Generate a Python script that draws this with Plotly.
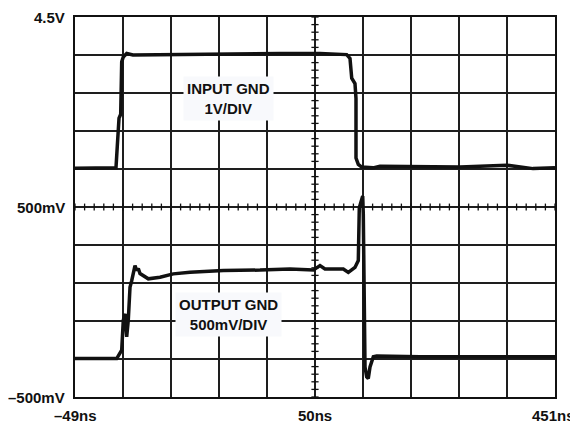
import numpy as np
import plotly.graph_objects as go

# Data in screen divisions (10 x 10 grid)
input_x = [0, 0.854, 0.881, 0.917, 0.952, 0.973, 1.006, 1.077, 1.208, 1.771, 3.021, 4.271, 5.104,
           5.660, 5.729, 5.765, 5.833, 5.854, 5.854, 5.902, 5.973, 6.208, 6.354, 8.021, 8.994, 9.542, 10]
input_y = [6.02, 6.03, 6.60, 7.34, 7.44, 8.82, 8.95, 9.04, 9.00, 9.01, 9.03, 9.04, 9.04,
           9.01, 8.91, 8.39, 8.25, 7.86, 6.29, 6.12, 6.05, 6.03, 6.07, 6.05, 6.10, 6.01, 6.03]

output_x = [0, 0.869, 0.973, 1.006, 1.042, 1.077, 1.110, 1.146, 1.181, 1.25, 1.285, 1.319, 1.354,
            1.423, 1.527, 1.771, 2.048, 2.396, 3.090, 3.854, 4.479, 4.965, 5.104, 5.208, 5.590,
            5.694, 5.833, 5.902, 5.923, 5.973, 5.994, 6.006, 6.042, 6.077, 6.110, 6.146, 6.215,
            6.285, 7.188, 10]
output_y = [1.01, 1.01, 1.23, 2.02, 2.19, 1.58, 2.02, 2.89, 3.06, 3.46, 3.33, 3.38, 3.25,
            3.19, 3.11, 3.15, 3.24, 3.28, 3.33, 3.34, 3.37, 3.34, 3.46, 3.37, 3.37,
            3.28, 3.41, 3.59, 4.98, 5.20, 5.29, 4.82, 0.79, 0.53, 0.49, 0.79, 1.06,
            1.08, 1.06, 1.06]

x_labels = ["\u201349ns", "50ns", "451ns"]
x_label_pos = [0, 5, 10]
y_labels = ["4.5V", "500mV", "\u2013500mV"]
y_label_pos = [10, 5, 0]

INK = "#111111"
FONT = dict(family="Liberation Sans, Arial, sans-serif", size=15, color=INK)

fig = go.Figure()
fig.add_trace(go.Scatter(x=input_x, y=input_y, mode="lines",
                         line=dict(color=INK, width=3.5), hoverinfo="skip"))
fig.add_trace(go.Scatter(x=output_x, y=output_y, mode="lines",
                         line=dict(color=INK, width=3.5), hoverinfo="skip"))

shapes = []
# crossing minor ticks on centre axes
for t in np.arange(0, 10.001, 0.2):
    shapes.append(dict(type="line", xref="x", yref="y", x0=t, x1=t, y0=5 - 0.09, y1=5 + 0.09,
                       line=dict(color=INK, width=1.3)))
    shapes.append(dict(type="line", xref="x", yref="y", x0=5 - 0.075, x1=5 + 0.075, y0=t, y1=t,
                       line=dict(color=INK, width=1.3)))

annotations = []
for lab, p in zip(x_labels, x_label_pos):
    anch = "right" if p == 10 else "center"
    shift = 22 if p == 10 else 0
    annotations.append(dict(x=p, y=0, xref="x", yref="y", text="<b>%s</b>" % lab, showarrow=False,
                            yshift=-18, xshift=shift, font=FONT, xanchor=anch, yanchor="middle"))
for lab, p in zip(y_labels, y_label_pos):
    annotations.append(dict(x=0, y=p, xref="x", yref="y", text="<b>%s</b>" % lab, showarrow=False,
                            xshift=-8, font=FONT, xanchor="right", yanchor="middle"))
annotations.append(dict(x=3.19, y=7.85, xref="x", yref="y", text="<b>INPUT GND<br>1V/DIV</b>",
                        showarrow=False, font=FONT, bgcolor="#f8f9fc", borderpad=3, align="center"))
annotations.append(dict(x=3.19, y=2.16, xref="x", yref="y", text="<b>OUTPUT GND<br>500mV/DIV</b>",
                        showarrow=False, font=FONT, bgcolor="#f8f9fc", borderpad=3, align="center"))

axis_common = dict(showgrid=True, gridcolor="#1e1e1e", gridwidth=1.5, dtick=1, tick0=0,
                   showticklabels=False, ticks="", zeroline=False, showline=True, mirror=True,
                   linecolor=INK, linewidth=2, fixedrange=True)

# page body has an 8px default margin, so the figure is sized/margined to compensate
fig.update_layout(
    width=570, height=439,
    margin=dict(l=67, r=23, t=7, b=50),
    paper_bgcolor="white", plot_bgcolor="white",
    showlegend=False,
    xaxis=dict(range=[0, 10], **axis_common),
    yaxis=dict(range=[0, 10], **axis_common),
    shapes=shapes,
    annotations=annotations,
)

fig.write_html("out.html")
